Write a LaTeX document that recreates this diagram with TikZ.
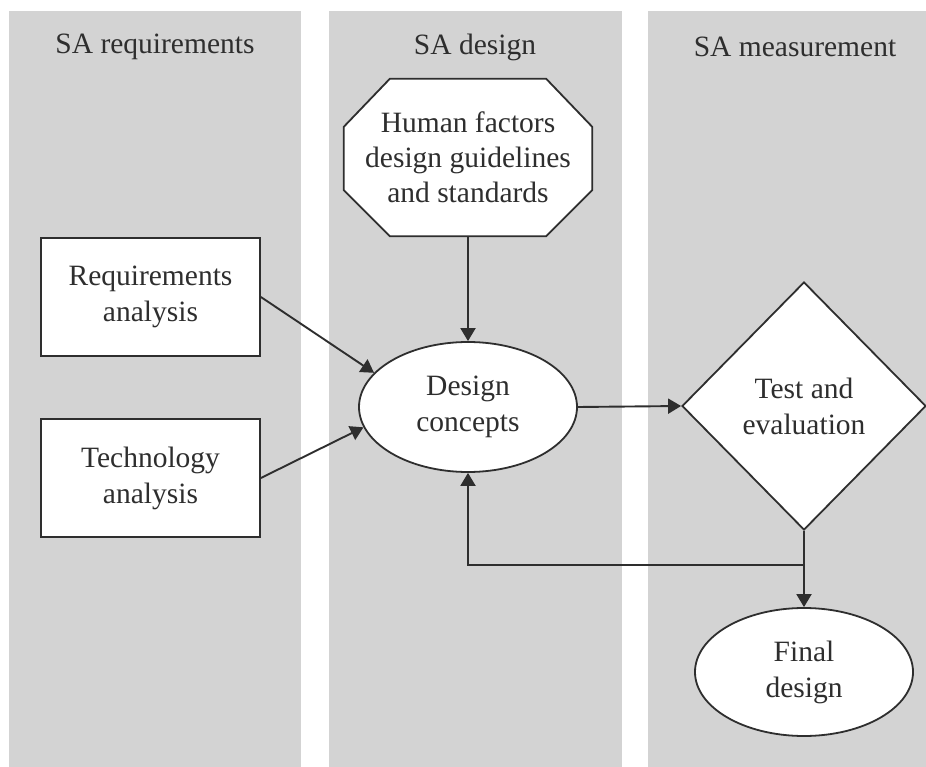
\documentclass[tikz,border=0pt]{standalone}
\usepackage{fontspec}
\setmainfont{Liberation Serif}
\usetikzlibrary{shapes.geometric,arrows.meta,calc,backgrounds}
\definecolor{lanegray}{HTML}{D3D3D3}
\definecolor{linecol}{HTML}{2E2E2E}
\definecolor{txtcol}{HTML}{2E2E2E}
\begin{document}
\begin{tikzpicture}[x=1pt,y=-1pt,
  hdr/.style={font=\fontsize{29.5}{35}\selectfont, text=txtcol, inner sep=0},
  txt/.style={font=\fontsize{29.5}{36}\selectfont, text=txtcol, align=center, fill=white, draw=linecol, line width=1.8pt, inner sep=0},
  boxnode/.style={txt, rectangle, minimum width=219, minimum height=118},
  ellnode/.style={txt, ellipse, minimum width=218, minimum height=130},
  dianode/.style={txt, diamond, minimum width=244, minimum height=248},
  octnode/.style={font=\fontsize{29.5}{35}\selectfont, text=txtcol, align=center, minimum width=248, minimum height=157, inner sep=0},
  octline/.style={draw=linecol, line width=1.8pt, fill=white},
  ln/.style={draw=linecol, line width=1.9pt},
  arr/.style={ln, -{Triangle[length=13pt,width=15pt]}}
]
\useasboundingbox (0,0) rectangle (926,767);
\begin{scope}[on background layer]
  \fill[lanegray] (9,11) rectangle (301,767);
  \fill[lanegray] (329,11) rectangle (622,767);
  \fill[lanegray] (648,11) rectangle (926,767);
\end{scope}

\node[hdr] (h1) at (155,47) {SA requirements};
\node[hdr] (h2) at (475,47) {SA design};
\node[hdr] (h3) at (795,47) {SA measurement};

\node[octnode] (hf) at (468,157.5) {Human factors\\design guidelines\\and standards};
\begin{scope}[on background layer]
  \draw[octline] ($(hf.north west)+(46,0)$) -- ($(hf.north east)+(-46,0)$)
    -- ($(hf.north east)+(0,48)$) -- ($(hf.south east)+(0,-46)$)
    -- ($(hf.south east)+(-46,0)$) -- ($(hf.south west)+(46,0)$)
    -- ($(hf.south west)+(0,-46)$) -- ($(hf.north west)+(0,48)$) -- cycle;
\end{scope}

\node[boxnode] (req) at (150.5,297) {Requirements\\analysis};
\node[boxnode] (tech) at (150.5,478) {Technology\\analysis};
\node[ellnode] (dc) at (468,407) {Design\\concepts};
\node[dianode] (te) at (804,406) {Test and\\evaluation};
\node[ellnode, minimum height=128] (fd) at (804,672) {Final\\design};

\coordinate (fbj) at ($(te.south)+(0,34)$);

\draw[arr] (hf.south) -- (dc.north);
\draw[arr] (req.east) -- (dc.160);
\draw[arr] (tech.east) -- (dc.191);
\draw[arr] (dc.east) -- (te.west);
\draw[ln] (te.south) -- (fbj);
\draw[arr] (fbj) -- (fd.north);
\draw[arr] (fbj) -| (dc.south);
\end{tikzpicture}
\end{document}
